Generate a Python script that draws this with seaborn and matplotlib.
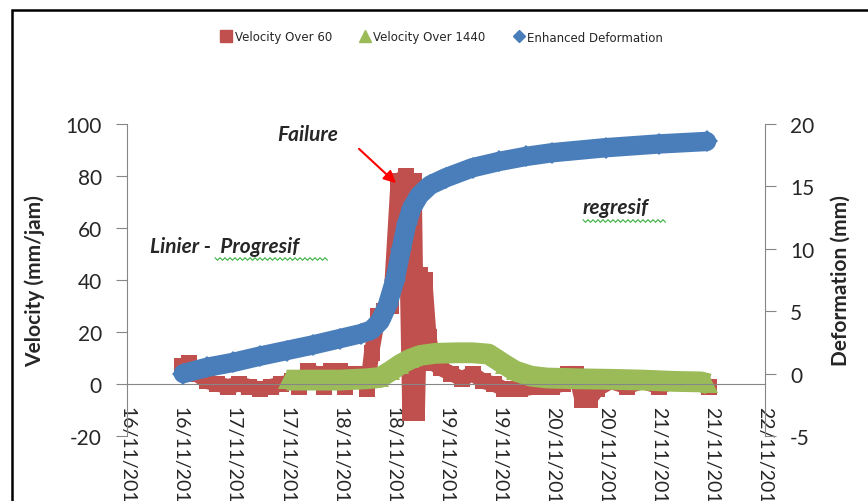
import numpy as np
import pandas as pd
import matplotlib
matplotlib.use("Agg")
import matplotlib.pyplot as plt
import matplotlib.dates as mdates
from matplotlib.lines import Line2D
from matplotlib.patches import Rectangle
import seaborn as sns

# days since 16/11 00:00
red_days = [0.52, 0.58, 0.65, 0.75, 0.85, 0.95, 1.05, 1.15, 1.25, 1.35, 1.45, 1.55,
            1.62, 1.70, 1.78, 1.85, 1.92, 2.00, 2.05, 2.12, 2.20, 2.26, 2.30, 2.36,
            2.42, 2.48, 2.55, 2.62, 2.66, 2.70, 2.73, 2.76, 2.80, 2.84, 2.88, 2.95,
            3.05, 3.15, 3.25, 3.35, 3.45, 3.55, 3.70, 3.85, 4.00, 4.10, 4.15, 4.22,
            4.28, 4.35, 4.42, 4.55, 4.70, 4.85, 5.00, 5.15, 5.30, 5.40, 5.47]
red_vel = [7, 8, 4, 1, 0, -1, 0, -1, -2, -1, 0, 1,
           -1, 5, 4, -1, 5, 5, -1, 4, 4, -2, 12, 26,
           28, 30, 78, 80, -11, 78, -11, 42, 40, 18, 8, 6,
           4, 2, 4, 1, 0, -2, -2, -1, -1, 0, 4, 4,
           -6, -6, -2, 1, -1, 1, -1, 1, 0, 1, -1]

green_days = [1.50, 1.75, 2.00, 2.25, 2.38, 2.48, 2.57, 2.66, 2.76, 2.90, 3.10, 3.25,
              3.40, 3.55, 3.65, 3.80, 3.95, 4.25, 4.55, 4.85, 5.15, 5.40, 5.47]
green_vel = [1.5, 1.5, 1.5, 2.0, 2.5, 5.0, 7.5, 9.5, 11.0, 11.8, 12.0, 12.0,
             11.5, 7.5, 5.0, 3.0, 2.3, 2.0, 1.8, 1.5, 1.0, 0.8, 0.0]

blue_days = [0.53, 0.75, 1.00, 1.25, 1.50, 1.75, 2.00, 2.20, 2.30, 2.38, 2.45, 2.52,
             2.58, 2.63, 2.68, 2.75, 2.85, 3.00, 3.25, 3.50, 3.75, 4.00, 4.50, 5.00, 5.45]
blue_def = [0.0, 0.5, 0.9, 1.4, 1.85, 2.3, 2.8, 3.2, 3.5, 4.2, 5.5, 7.5,
            10.0, 12.0, 13.3, 14.3, 15.1, 15.7, 16.5, 17.0, 17.4, 17.7, 18.1, 18.4, 18.6]

base = pd.Timestamp("2012-11-16")


def to_time(days):
    return base + pd.to_timedelta(np.array(days), unit="D")


RED = "#C0504D"
GREEN = "#9BBB59"
BLUE = "#4A7EBB"
GRAY = "#868686"

sns.set_style("white")
plt.rcParams["font.family"] = ["Lato", "DejaVu Sans"]
plt.rcParams["axes.unicode_minus"] = False

fig = plt.figure(figsize=(8.68, 5.02), dpi=100)
ax = fig.add_axes([127 / 868, 1 - 437 / 502, 638 / 868, 312 / 502])
ax2 = ax.twinx()

sns.lineplot(x=to_time(red_days), y=red_vel, ax=ax, color=RED, linewidth=11,
             marker="s", markersize=12, markeredgewidth=0, estimator=None)
sns.lineplot(x=to_time(green_days), y=green_vel, ax=ax, color=GREEN, linewidth=15,
             marker="^", markersize=13, markeredgewidth=0, estimator=None,
             solid_capstyle="butt")
sns.lineplot(x=to_time(blue_days), y=blue_def, ax=ax2, color=BLUE, linewidth=14,
             marker="D", markersize=11, markeredgewidth=0, estimator=None)

ax.set_xlim(base, base + pd.Timedelta(days=6))
ax.set_ylim(-20, 100)
ax.set_yticks(range(-20, 101, 20))
ax2.set_ylim(-5, 20)
ax2.set_yticks(range(-5, 21, 5))

ax.xaxis.set_major_locator(mdates.HourLocator(byhour=[0, 12]))
ax.xaxis.set_major_formatter(mdates.DateFormatter("%d/%m/%Y"))

for s in ["top", "right"]:
    ax.spines[s].set_visible(False)
ax.spines["bottom"].set_position(("data", 0))
ax.spines["bottom"].set_color(GRAY)
ax.spines["left"].set_color(GRAY)
for s in ["top", "left", "bottom"]:
    ax2.spines[s].set_visible(False)
ax2.spines["right"].set_color(GRAY)

ax.tick_params(axis="y", direction="out", length=8, color=GRAY, pad=10, labelsize=15)
ax.tick_params(axis="x", direction="out", length=9, color=GRAY, pad=7, labelsize=14)
ax2.tick_params(axis="y", direction="out", length=8, color=GRAY, pad=10, labelsize=15)
plt.setp(ax.get_xticklabels(), rotation=270, va="top", ha="center")

ax.set_xlabel("")
ax.set_ylabel("Velocity (mm/jam)", fontsize=15, fontweight="bold", labelpad=8)
ax2.set_ylabel("Deformation (mm)", fontsize=15, fontweight="bold", labelpad=12)
ax.yaxis.set_label_coords(-82 / 638, 0.5)

# annotations
fig.text(308 / 868, 1 - 135 / 502, "Failure", fontsize=15, fontweight="bold",
         style="italic", ha="center", va="center")
fig.text(150 / 868, 1 - 247 / 502, "Linier -  Progresif", fontsize=15,
         fontweight="bold", style="italic", ha="left", va="center")
fig.text(583 / 868, 1 - 208 / 502, "regresif", fontsize=15, fontweight="bold",
         style="italic", ha="left", va="center")
ax.annotate("", xy=(398, 502 - 186), xycoords="figure pixels",
            xytext=(357, 502 - 148), textcoords="figure pixels",
            arrowprops=dict(arrowstyle="-|>", color="red", lw=1.5, mutation_scale=18))


def squiggle(x0, x1, y):
    xs = np.arange(x0, x1, 2.5)
    ys = y + np.where(np.arange(len(xs)) % 2, 1.3, -1.3)
    fig.add_artist(Line2D(xs / 868, 1 - ys / 502, color="#3CB043", lw=0.8,
                          transform=fig.transFigure))


squiggle(215, 328, 260)
squiggle(583, 668, 222)

# legend
handles = [
    Line2D([], [], ls="none", marker="s", color=RED, markersize=9),
    Line2D([], [], ls="none", marker="^", color=GREEN, markersize=9),
    Line2D([], [], ls="none", marker="D", color=BLUE, markersize=6),
]
fig.legend(handles, ["Velocity Over 60", "Velocity Over 1440", "Enhanced Deformation"],
           loc="center", bbox_to_anchor=(441 / 868, 1 - 38 / 502), ncol=3,
           frameon=False, prop={"family": "DejaVu Sans", "size": 8.5},
           handletextpad=0.1, columnspacing=2.2, handlelength=1.2)

# outer frame
fig.add_artist(Rectangle((12 / 868, -0.1), 1.1, 1.1 - 11 / 502, fill=False,
                         edgecolor="black", lw=1.8, transform=fig.transFigure))

fig.savefig("out.png", dpi=100)
